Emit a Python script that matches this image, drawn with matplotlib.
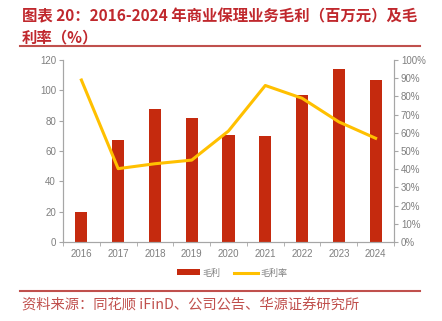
import matplotlib
matplotlib.use("Agg")
import matplotlib.pyplot as plt
from matplotlib.ticker import FuncFormatter, MultipleLocator
from matplotlib.lines import Line2D
from matplotlib.patches import Patch

plt.rcParams['font.family'] = ['Noto Sans CJK SC', 'DejaVu Sans']

years = ["2016", "2017", "2018", "2019", "2020", "2021", "2022", "2023", "2024"]
gross_profit = [20, 67, 87.5, 82, 70.5, 70, 96.7, 114, 106.8]
gross_margin = [89, 40.3, 43, 45, 61, 86, 79, 66, 57]

bar_color = "#C52A0E"
line_color = "#FFC000"
title_color = "#C0282D"
axis_color = "#A6A6A6"
tick_color = "#7F7F7F"

fig = plt.figure(figsize=(4.42, 3.21), dpi=100)
ax = fig.add_axes([63/442, 1-242/321, (394-63)/442, (242-60)/321])
ax2 = ax.twinx()

x = list(range(len(years)))
ax.bar(x, gross_profit, width=0.33, color=bar_color, zorder=2)
ax2.plot(x, gross_margin, color=line_color, lw=2.2, zorder=3)

ax.set_xlim(-0.5, len(years)-0.5)
ax.set_ylim(0, 120)
ax.yaxis.set_major_locator(MultipleLocator(20))
ax2.set_ylim(0, 100)
ax2.yaxis.set_major_locator(MultipleLocator(10))
ax2.yaxis.set_major_formatter(FuncFormatter(lambda v, p: f"{int(round(v))}%"))

ax.set_xticks(x)
ax.set_xticklabels(years)
ax.set_xticks([i + 0.5 for i in range(-1, len(years))], minor=True)
ax.tick_params(axis='x', which='major', length=0, pad=5)
ax.tick_params(axis='x', which='minor', length=3, color=axis_color, direction='out')

for a in (ax, ax2):
    a.spines['top'].set_visible(False)
    for s in ('left', 'right', 'bottom'):
        a.spines[s].set_color(axis_color)
        a.spines[s].set_linewidth(0.8)
    a.tick_params(labelsize=7, labelcolor=tick_color, color=axis_color)
    for lab in a.get_xticklabels() + a.get_yticklabels():
        lab.set_family(['Liberation Sans', 'DejaVu Sans'])
ax.tick_params(axis='y', length=3, pad=2)
ax2.tick_params(axis='y', length=3, pad=2)

# Title
fig.text(22/442, 1-16/321, "图表 20：2016-2024 年商业保理业务毛利（百万元）及毛",
         color=title_color, fontsize=11.1, fontweight='bold', va='center', ha='left')
fig.text(22/442, 1-37/321, "利率（%）",
         color=title_color, fontsize=11.1, fontweight='bold', va='center', ha='left')
fig.add_artist(Line2D([20/442, 420/442], [1-46/321, 1-46/321], color="#C0504D", lw=1.5))

# Legend
handles = [Patch(facecolor=bar_color, edgecolor='none'),
           Line2D([0], [0], color=line_color, lw=2.2)]
leg = fig.legend(handles, ["毛利", "毛利率"], loc='center', bbox_to_anchor=(232/442, 1-273/321),
                 ncol=2, frameon=False, fontsize=6.5, handlelength=2.6, handleheight=0.6,
                 columnspacing=1.5, handletextpad=0.3)
for t in leg.get_texts():
    t.set_color(tick_color)

fig.add_artist(Line2D([20/442, 420/442], [1-291/321, 1-291/321], color="#C0504D", lw=1.5))
fig.text(22/442, 1-306/321, "资料来源：同花顺 iFinD、公司公告、华源证券研究所",
         color="#C0504D", fontsize=10.3, va='center', ha='left')

fig.savefig("out.png", dpi=100)
